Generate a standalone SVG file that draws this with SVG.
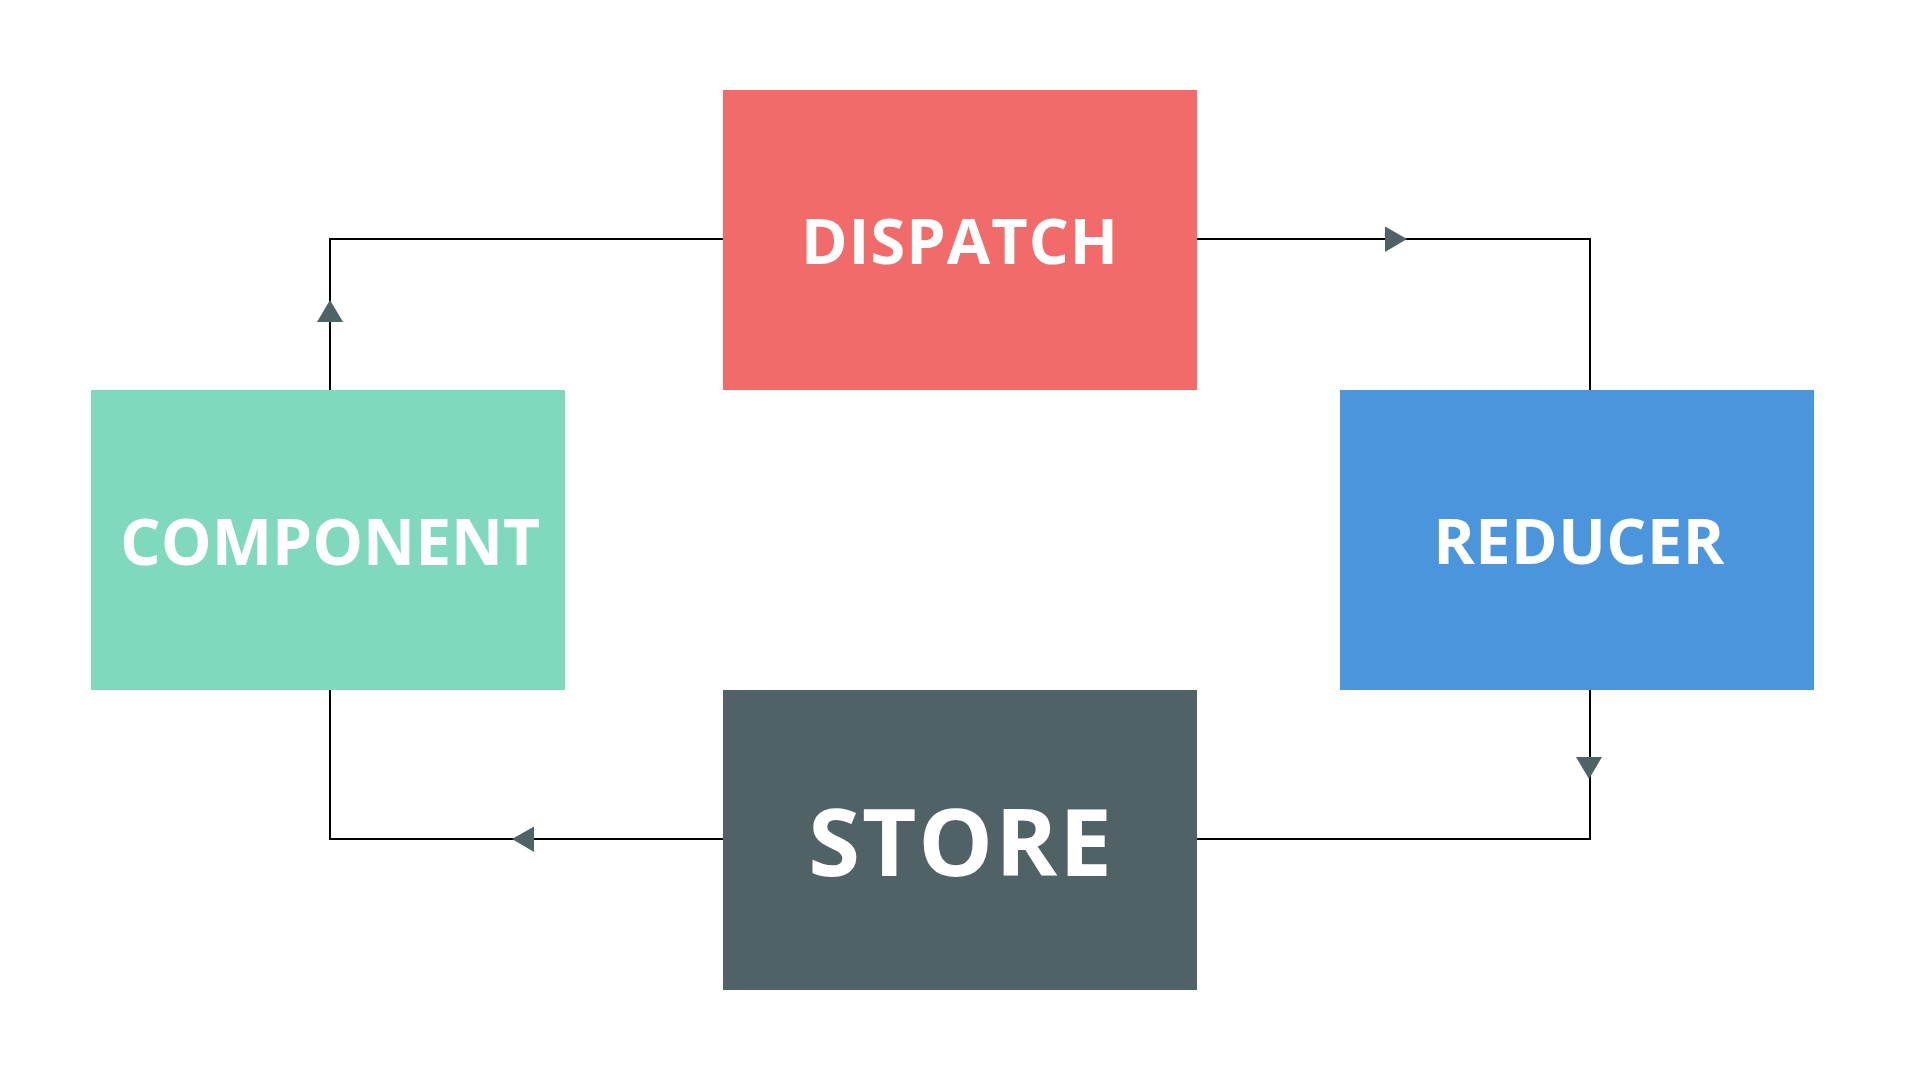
<svg xmlns="http://www.w3.org/2000/svg" width="1920" height="1080" viewBox="0 0 1920 1080">
<style>
.lbl{font-family:"Open Sans","Liberation Sans",sans-serif;font-weight:700;fill:#ffffff;text-anchor:middle}
.conn{fill:none;stroke:#000000;stroke-width:2}
.head{fill:#4f6266}
</style>
<rect width="1920" height="1080" fill="#ffffff"/>
<g id="connectors">
<polyline class="conn" points="330,390 330,239 723,239"/>
<polygon class="head" points="330,300 317,322 343,322"/>
<polyline class="conn" points="1197,239 1590,239 1590,390"/>
<polygon class="head" points="1407,239 1385,226.5 1385,252"/>
<polyline class="conn" points="1590,690 1590,839 1197,839"/>
<polygon class="head" points="1589,779 1576,757 1602,757"/>
<polyline class="conn" points="723,839 330,839 330,690"/>
<polygon class="head" points="512,839 534,826.5 534,852"/>
</g>
<g id="dispatch">
<rect x="723" y="90" width="474" height="300" fill="#f16b6b"/>
<text class="lbl" x="960" y="264" font-size="63" letter-spacing="1">DISPATCH</text>
</g>
<g id="component">
<rect x="91" y="390" width="474" height="300" fill="#80d9bd"/>
<text class="lbl" x="330" y="565" font-size="64">COMPONENT</text>
</g>
<g id="reducer">
<rect x="1340" y="390" width="474" height="300" fill="#4a95dc"/>
<text class="lbl" x="1579" y="564" font-size="63" letter-spacing="0.5">REDUCER</text>
</g>
<g id="store">
<rect x="723" y="690" width="474" height="300" fill="#506266"/>
<text class="lbl" x="961" y="876" font-size="94" letter-spacing="2">STORE</text>
</g>
</svg>
